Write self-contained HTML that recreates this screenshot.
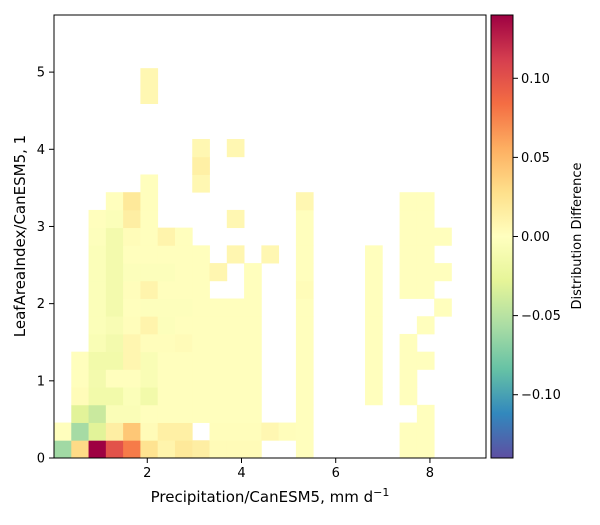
<!DOCTYPE html>
<html><head><meta charset="utf-8"><style>
html,body{margin:0;padding:0;background:#fff;}
svg{display:block;font-family:"DejaVu Sans","Liberation Sans",sans-serif;}
</style></head><body>
<svg id="chart" width="600" height="525" viewBox="0 0 600 525" xmlns="http://www.w3.org/2000/svg">
<defs>
<linearGradient id="cbgrad" x1="0" y1="1" x2="0" y2="0">
<stop offset="0" stop-color="#5e4fa2"/><stop offset="0.1" stop-color="#3288bd"/><stop offset="0.2" stop-color="#66c2a5"/><stop offset="0.3" stop-color="#abdda4"/><stop offset="0.4" stop-color="#e6f598"/><stop offset="0.5" stop-color="#ffffbf"/><stop offset="0.6" stop-color="#fee08b"/><stop offset="0.7" stop-color="#fdae61"/><stop offset="0.8" stop-color="#f46d43"/><stop offset="0.9" stop-color="#d53e4f"/><stop offset="1" stop-color="#9e0142"/>
</linearGradient>
</defs>
<g id="cells"></g>
<rect x="54" y="15" width="432" height="443" fill="none" stroke="#000" stroke-width="1"/>
<g id="xticks"></g>
<g id="yticks"></g>
<text x="270" y="502" font-size="15" text-anchor="middle">Precipitation/CanESM5,  mm d<tspan font-size="11" dy="-6">−1</tspan></text>
<text transform="translate(25,236) rotate(-90)" font-size="15" text-anchor="middle">LeafAreaIndex/CanESM5,  1</text>
<rect x="491" y="15" width="22" height="443" fill="url(#cbgrad)" stroke="#000" stroke-width="1"/>
<g id="cbticks"></g>
<text transform="translate(581,236) rotate(-90)" font-size="13" text-anchor="middle">Distribution Difference</text>
</svg>
<script>
const n = null;
const xTicks = [2, 4, 6, 8];
const yTicks = [0, 1, 2, 3, 4, 5];
const cbTicks = [-0.10, -0.05, 0.00, 0.05, 0.10];
const xEdgeMin = 0.02, xEdgeMax = 9.19, yEdgeMin = 0, yEdgeMax = 5.74;
const nCols = 25, nRows = 25;
const vmin = -0.14, vmax = 0.14;
// rows from bottom (row 0 = lowest LAI bin), 25 columns each
const values = [
[-0.06,0.031,0.14,0.1,0.078,0.025,0.01,0.02,0.015,0.004,0.004,0.004,n,n,0.001,n,n,n,n,n,0.001,0.001,n,n,n],
[0.001,-0.058,-0.03,0.015,0.042,0.004,0.014,0.014,n,0.002,0.002,0.002,0.007,0.002,0.001,n,n,n,n,n,0.001,0.001,n,n,n],
[n,-0.03,-0.042,-0.006,-0.006,0.001,0.001,0.001,0.001,0.001,0.001,0.001,n,n,0.001,n,n,n,n,n,n,0.001,n,n,n],
[n,0.003,-0.015,-0.015,-0.004,-0.015,0.001,0.001,0.001,0.001,0.001,0.001,n,n,0.001,n,n,n,0.001,n,0.001,n,n,n,n],
[n,0.001,-0.013,0.001,0.001,-0.007,0.001,0.001,0.001,0.001,0.001,0.001,n,n,0.001,n,n,n,0.001,n,0.001,n,n,n,n],
[n,0.001,-0.015,-0.015,0.008,-0.007,0.001,0.001,0.001,0.001,0.001,0.001,n,n,0.001,n,n,n,0.001,n,0.001,0.001,n,n,n],
[n,n,-0.007,-0.013,0.008,0.002,0.002,0.004,0.001,0.001,0.001,0.001,n,n,0.001,n,n,n,0.001,n,0.001,n,n,n,n],
[n,n,-0.004,-0.008,0.002,0.01,-0.003,0.001,0.001,0.001,0.001,0.001,n,n,0.001,n,n,n,0.001,n,n,0.001,n,n,n],
[n,n,-0.004,-0.013,0.001,-0.002,-0.002,-0.002,0.001,0.001,0.001,0.001,n,n,0.001,n,n,n,0.001,n,n,n,0.001,n,n],
[n,n,-0.004,-0.013,0.002,0.01,0.001,0.001,0.001,n,n,0.001,n,n,0.003,n,n,n,0.001,n,0.001,0.001,n,n,n],
[n,n,-0.004,-0.013,-0.003,-0.003,-0.003,0.001,0.001,0.008,n,0.001,n,n,0.001,n,n,n,0.001,n,0.001,0.001,0.001,n,n],
[n,n,-0.004,-0.013,0.001,0.001,0.001,0.001,0.001,n,0.008,n,0.007,n,0.001,n,n,n,0.001,n,0.001,0.001,n,n,n],
[n,n,-0.002,-0.013,0.003,0.001,0.01,0.001,n,n,n,n,n,n,0.001,n,n,n,n,n,0.001,0.001,0.001,n,n],
[n,n,0.001,-0.004,0.015,0.001,n,n,n,n,0.007,n,n,n,0.001,n,n,n,n,n,0.001,0.001,n,n,n],
[n,n,n,0.001,0.02,0.001,n,n,n,n,n,n,n,n,0.007,n,n,n,n,n,0.001,0.001,n,n,n],
[n,n,n,n,n,0.001,n,n,0.007,n,n,n,n,n,n,n,n,n,n,n,n,n,n,n,n],
[n,n,n,n,n,n,n,n,0.014,n,n,n,n,n,n,n,n,n,n,n,n,n,n,n,n],
[n,n,n,n,n,n,n,n,0.007,n,0.007,n,n,n,n,n,n,n,n,n,n,n,n,n,n],
[n,n,n,n,n,n,n,n,n,n,n,n,n,n,n,n,n,n,n,n,n,n,n,n,n],
[n,n,n,n,n,n,n,n,n,n,n,n,n,n,n,n,n,n,n,n,n,n,n,n,n],
[n,n,n,n,n,0.007,n,n,n,n,n,n,n,n,n,n,n,n,n,n,n,n,n,n,n],
[n,n,n,n,n,0.007,n,n,n,n,n,n,n,n,n,n,n,n,n,n,n,n,n,n,n]
];
const NS = "http://www.w3.org/2000/svg";
const px0 = 54, px1 = 486, py0 = 458, py1 = 15;
function xScale(v){ return px0 + (v - xEdgeMin) / (xEdgeMax - xEdgeMin) * (px1 - px0); }
function yScale(v){ return py0 - (v - yEdgeMin) / (yEdgeMax - yEdgeMin) * (py0 - py1); }
function cbScale(v){ return py0 - (v - vmin) / (vmax - vmin) * (py0 - py1); }
const stops = ["#5e4fa2","#3288bd","#66c2a5","#abdda4","#e6f598","#ffffbf","#fee08b","#fdae61","#f46d43","#d53e4f","#9e0142"];
function hex(h){ return [parseInt(h.substr(1,2),16),parseInt(h.substr(3,2),16),parseInt(h.substr(5,2),16)]; }
function cmap(v){
  let t = (v - vmin) / (vmax - vmin); t = Math.max(0, Math.min(1, t));
  const p = t * 10, i = Math.min(9, Math.floor(p)), f = p - i;
  const a = hex(stops[i]), b = hex(stops[i+1]);
  return "rgb(" + a.map((c,k)=>Math.round(c + (b[k]-c)*f)).join(",") + ")";
}
function mk(tag, attrs, parent){ const e = document.createElementNS(NS, tag); for (const k in attrs) e.setAttribute(k, attrs[k]); parent.appendChild(e); return e; }
const cw = (xEdgeMax - xEdgeMin) / nCols, ch = (yEdgeMax - yEdgeMin) / nRows;
const cells = document.getElementById("cells");
values.forEach((row, r) => row.forEach((v, c) => {
  if (v === null) return;
  const x0 = xScale(xEdgeMin + c*cw), x1 = xScale(xEdgeMin + (c+1)*cw);
  const y0 = yScale(yEdgeMin + (r+1)*ch), y1 = yScale(yEdgeMin + r*ch);
  const el = mk("rect", {x: x0, y: y0, width: x1 - x0 + 0.4, height: y1 - y0 + 0.4, fill: cmap(v)}, cells);
  
  
}));
const xg = document.getElementById("xticks");
xTicks.forEach(t => {
  const x = xScale(t);
  const l = mk("line", {x1: x, x2: x, y1: 458, y2: 463, stroke: "#000"}, xg);
  
  
  const tx = mk("text", {x: x, y: 477, "font-size": 13, "text-anchor": "middle"}, xg);
  tx.textContent = t;
  
  
});
const yg = document.getElementById("yticks");
yTicks.forEach(t => {
  const y = yScale(t);
  const l = mk("line", {x1: 49, x2: 54, y1: y, y2: y, stroke: "#000"}, yg);
  
  
  const tx = mk("text", {x: 45, y: y + 4.5, "font-size": 13, "text-anchor": "end"}, yg);
  tx.textContent = t;
  
  
});
const cg = document.getElementById("cbticks");
cbTicks.forEach(t => {
  const y = cbScale(t);
  const l = mk("line", {x1: 513, x2: 518, y1: y, y2: y, stroke: "#000"}, cg);
  
  
  const tx = mk("text", {x: 521, y: y + 4.5, "font-size": 13}, cg);
  tx.textContent = (t < 0 ? "−" : "") + Math.abs(t).toFixed(2);
  
  
});
</script>
</body></html>
